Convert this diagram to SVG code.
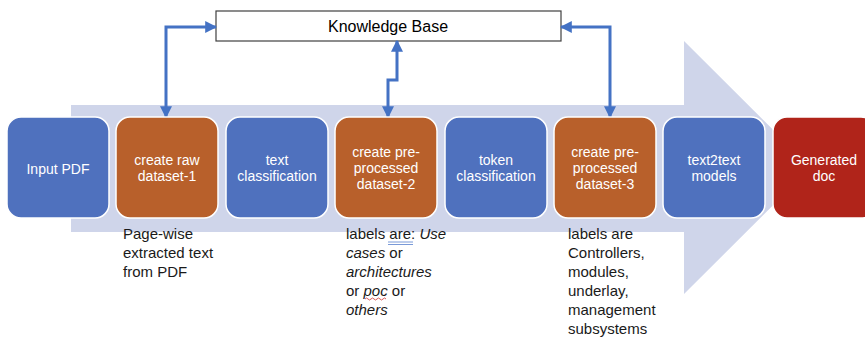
<svg xmlns="http://www.w3.org/2000/svg" width="865" height="340" viewBox="0 0 865 340">
<defs>
<marker id="ah" viewBox="0 0 10 10" refX="9" refY="5" markerWidth="4" markerHeight="4" orient="auto-start-reverse" markerUnits="strokeWidth">
<path d="M0,0 L10,5 L0,10 Z" fill="#4472C4"/>
</marker>
</defs>
<style>
.box{stroke:#ffffff;stroke-width:1.5}
.blue{fill:#4F71BE}
.orange{fill:#B8602B}
.red{fill:#B0241A}
.bt{font-family:"Liberation Sans",Arial,sans-serif;font-size:14px;fill:#ffffff;text-anchor:middle}
.nt{font-family:"Liberation Sans",Arial,sans-serif;font-size:15px;fill:#1a1a1a}
.conn{fill:none;stroke:#4472C4;stroke-width:3;marker-start:url(#ah);marker-end:url(#ah)}
</style>
<rect width="865" height="340" fill="#ffffff"/>
<polygon id="bigarrow" points="71,105 684,105 684,41 811,167.5 684,294 684,232 71,232" fill="#CFD5EA"/>
<g id="kb">
<rect x="216" y="11" width="345" height="30" fill="#ffffff" stroke="#404040" stroke-width="1.2"/>
<text x="388" y="32" font-family="Liberation Sans,Arial,sans-serif" font-size="16" text-anchor="middle" fill="#000">Knowledge Base</text>
</g>
<g id="connectors">
<polyline class="conn" points="166,117 166,27 216,27"/>
<polyline class="conn" points="388,117 388,80 397,80 397,41"/>
<polyline class="conn" points="561,27 610,27 610,117"/>
</g>
<g id="n1"><rect class="box blue" x="7" y="117" width="102" height="101" rx="14"/><text class="bt" x="58" y="174">Input PDF</text></g>
<g id="n2"><rect class="box orange" x="116" y="117" width="102" height="101" rx="14"/><text class="bt" x="167" y="165">create raw</text><text class="bt" x="167" y="181">dataset-1</text></g>
<g id="n3"><rect class="box blue" x="226" y="117" width="102" height="101" rx="14"/><text class="bt" x="277" y="165">text</text><text class="bt" x="277" y="181">classification</text></g>
<g id="n4"><rect class="box orange" x="335" y="117" width="102" height="101" rx="14"/><text class="bt" x="386" y="157">create pre-</text><text class="bt" x="386" y="173">processed</text><text class="bt" x="386" y="189">dataset-2</text></g>
<g id="n5"><rect class="box blue" x="445" y="117" width="102" height="101" rx="14"/><text class="bt" x="496" y="165">token</text><text class="bt" x="496" y="181">classification</text></g>
<g id="n6"><rect class="box orange" x="554" y="117" width="102" height="101" rx="14"/><text class="bt" x="605" y="157">create pre-</text><text class="bt" x="605" y="173">processed</text><text class="bt" x="605" y="189">dataset-3</text></g>
<g id="n7"><rect class="box blue" x="663" y="117" width="102" height="101" rx="14"/><text class="bt" x="714" y="165">text2text</text><text class="bt" x="714" y="181">models</text></g>
<g id="n8"><rect class="box red" x="773" y="117" width="102" height="101" rx="14"/><text class="bt" x="824" y="165">Generated</text><text class="bt" x="824" y="181">doc</text></g>
<g id="note1">
<text class="nt" x="123" y="239">Page-wise</text>
<text class="nt" x="123" y="258">extracted text</text>
<text class="nt" x="123" y="277">from PDF</text>
</g>
<g id="note2">
<text class="nt" x="346" y="239">labels are: <tspan font-style="italic">Use</tspan></text>
<text class="nt" x="346" y="258"><tspan font-style="italic">cases</tspan> or</text>
<text class="nt" x="346" y="277" font-style="italic">architectures</text>
<text class="nt" x="346" y="296">or <tspan font-style="italic">poc</tspan> or</text>
<text class="nt" x="346" y="315" font-style="italic">others</text>
<path d="M388,242 H413 M388,244.5 H413" stroke="#7A9AD8" stroke-width="1" fill="none"/>
<path d="M365,299 q1.5,-2 3,0 t3,0 t3,0 t3,0 t3,0 t3,0 t3,0" stroke="#D03030" stroke-width="0.8" fill="none"/>
</g>
<g id="note3">
<text class="nt" x="568" y="239">labels are</text>
<text class="nt" x="568" y="258">Controllers,</text>
<text class="nt" x="568" y="277">modules,</text>
<text class="nt" x="568" y="296">underlay,</text>
<text class="nt" x="568" y="315">management</text>
<text class="nt" x="568" y="334">subsystems</text>
</g>
</svg>
